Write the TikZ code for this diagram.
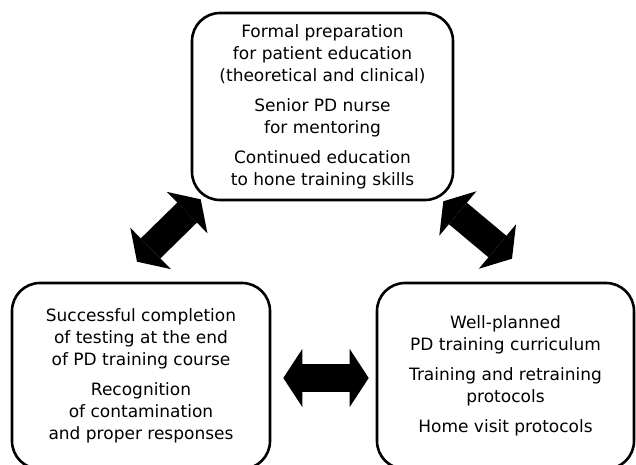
\documentclass[tikz,border=0pt]{standalone}
\usepackage{fontspec}
\setmainfont{DejaVu Sans}
\usetikzlibrary{calc,arrows.meta}

\tikzset{
  box/.style={draw,line width=2.6pt,rounded corners=28pt,align=center,
    font=\fontsize{17}{22}\selectfont},
  link/.style={line width=28pt,
    {Triangle[length=19pt,width=58pt,line width=0pt]}-{Triangle[length=19pt,width=58pt,line width=0pt]}}
}

\begin{document}
\begin{tikzpicture}[x=1pt,y=1pt]
  \useasboundingbox (0,0) rectangle (636,464);
  \node[box,minimum width=261pt,minimum height=187pt] (prep) at (322.5,357.5)
    {Formal preparation\\for patient education\\(theoretical and clinical)\\[8pt]
     Senior PD nurse\\for mentoring\\[8pt]
     Continued education\\to hone training skills};
  \node[box,minimum width=258pt,minimum height=186pt] (test) at (141,88)
    {Successful completion\\of testing at the end\\of PD training course\\[8pt]
     Recognition\\of contamination\\and proper responses};
  \node[box,minimum width=257pt,minimum height=186pt] (plan) at (505.5,88)
    {Well-planned\\PD training curriculum\\[8pt]
     Training and retraining\\protocols\\[8pt]
     Home visit protocols};
  \draw[link] ($(test.north)+(-4,20)$) -- ($(prep.south west)+(10,2)$);
  \draw[link] ($(prep.south east)+(-11,0)$) -- ($(plan.north)+(6.5,23)$);
  \draw[link] ($(test.east)+(12,-2)$) -- ($(plan.west)+(-7,-2)$);
\end{tikzpicture}
\end{document}
